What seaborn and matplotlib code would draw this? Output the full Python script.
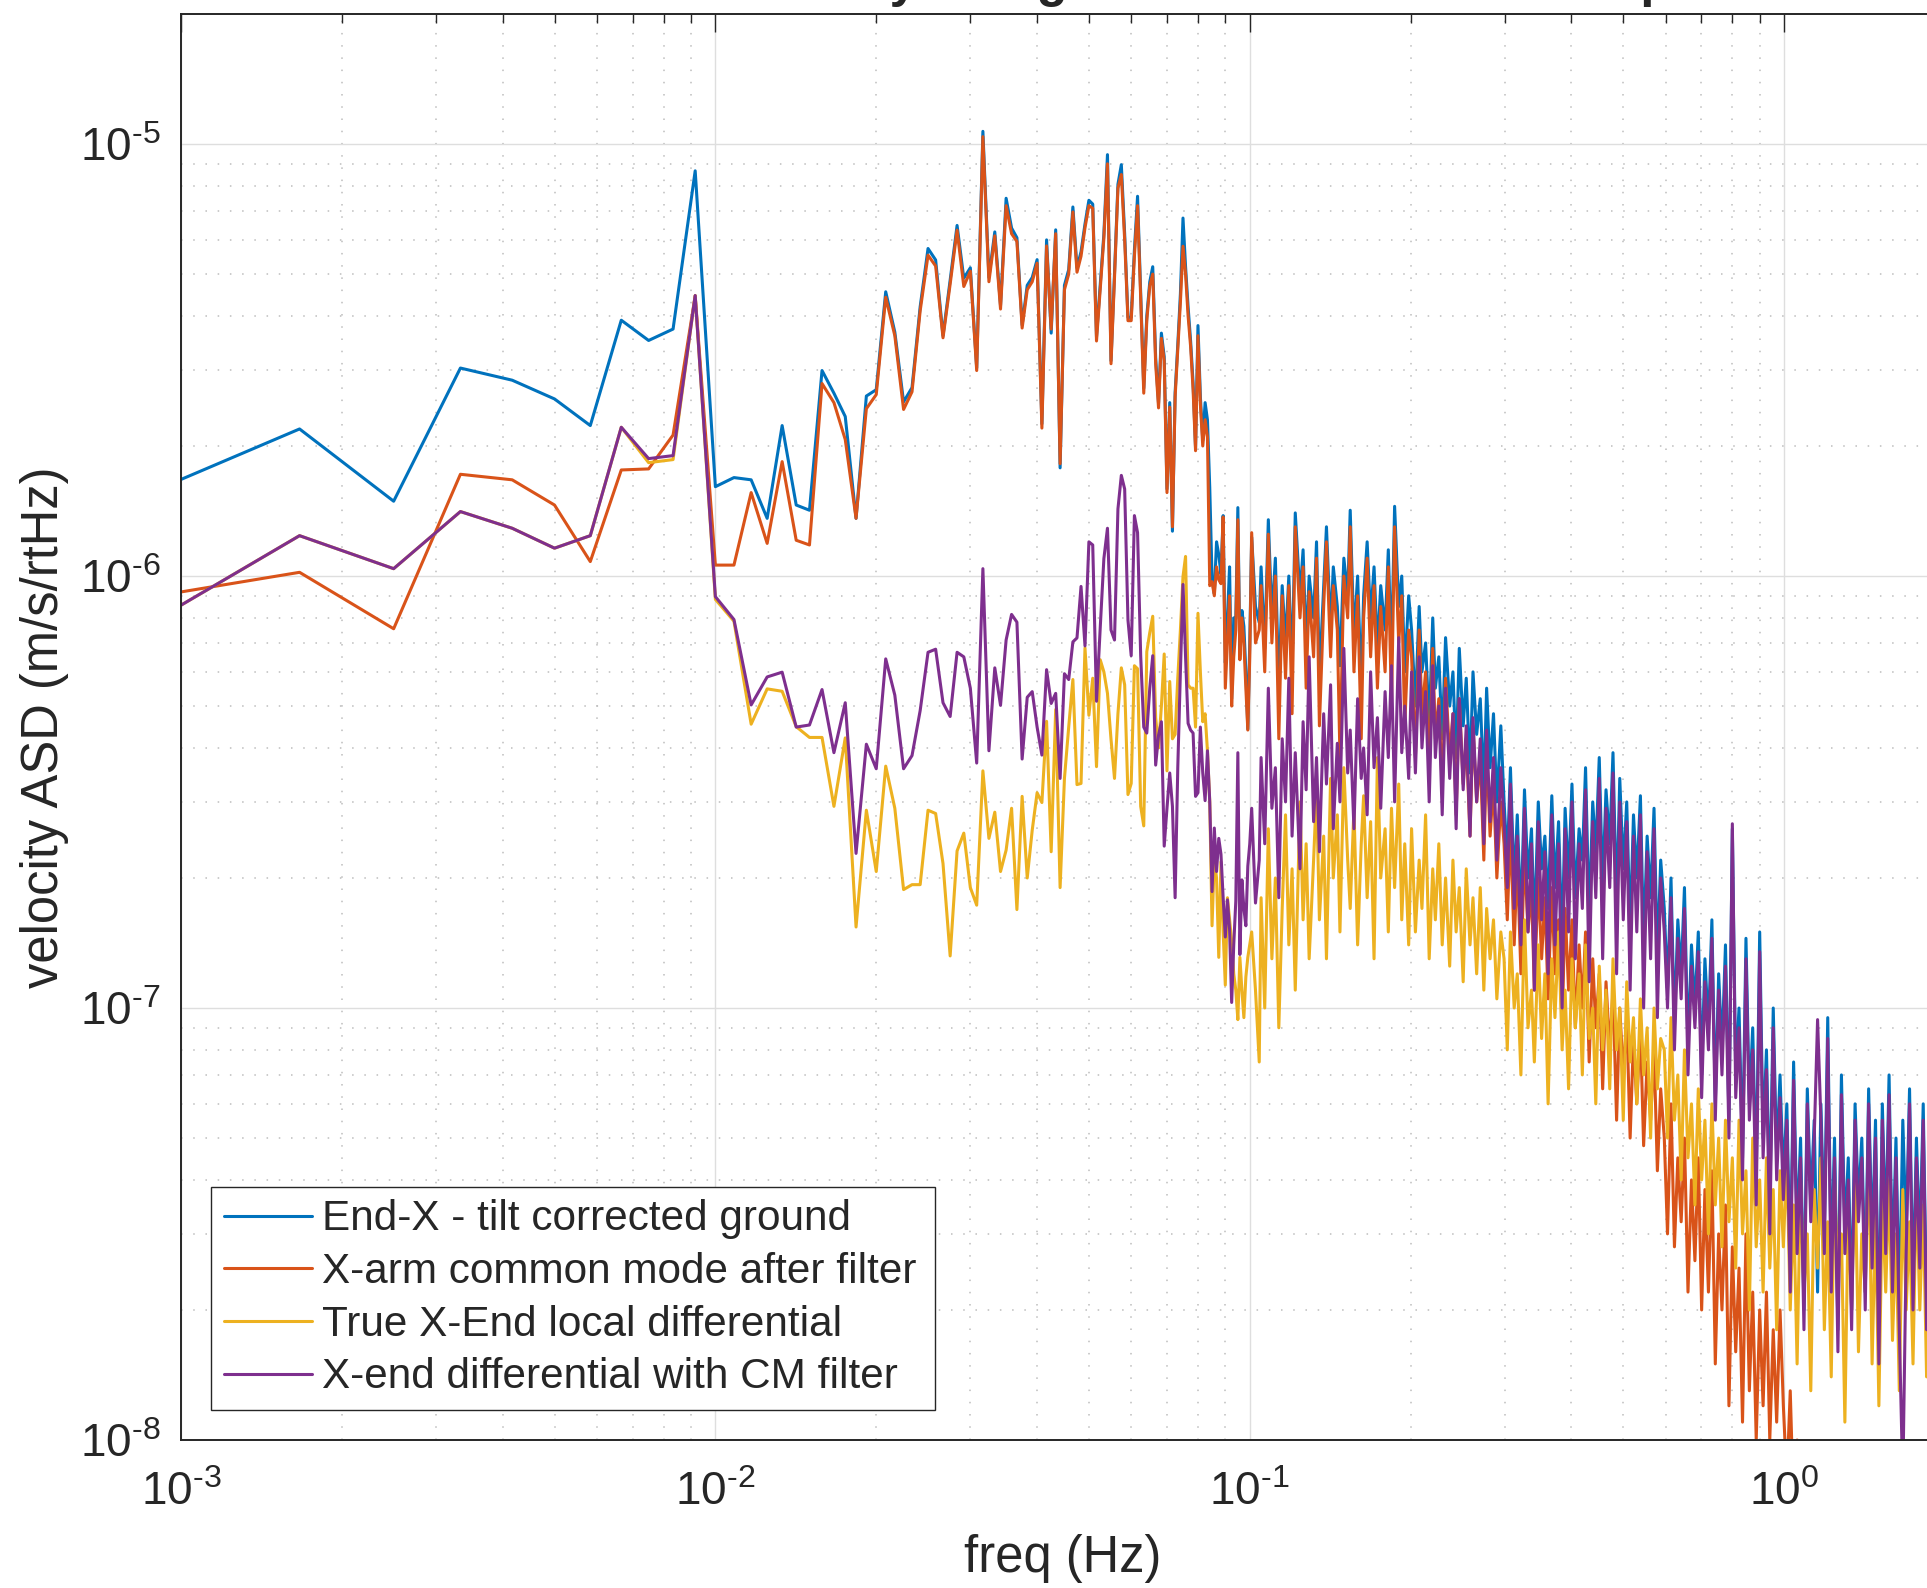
import numpy as np
import pandas as pd
import matplotlib
matplotlib.use("Agg")
import matplotlib.pyplot as plt
from matplotlib.lines import Line2D
from matplotlib.ticker import LogLocator, NullFormatter, FuncFormatter
from matplotlib.mathtext import MathTextParser
import seaborn as sns

# ---------------------------------------------------------------------------
# Spectra (velocity ASD, in units of 1e-7 m/s/rtHz)
# FFT bin spacing of the spectra
DF_HZ = 1.0 / 1200.0
UNIT = 1e-7

SERIES = [
    "End-X - tilt corrected ground",
    "X-arm common mode after filter",
    "True X-End local differential",
    "X-end differential with CM filter",
]
COLORS = ["#0072BD", "#D95319", "#EDB120", "#7E2F8E"]

# bins 1..120 (below 0.1 Hz), every bin
blue_lf = [
    15.2, 21.9, 14.9, 30.3, 28.4, 25.7, 22.3, 39.1, 35.1, 37.3,
    86.7, 16.1, 16.9, 16.7, 13.6, 22.3, 14.6, 14.2, 29.9, 26.5,
    23.4, 13.6, 26.1, 27.0, 45.5, 36.7, 25.3, 27.3, 42.0, 57.3,
    53.9, 36.0, 48.4, 64.8, 48.9, 51.7, 30.3, 107.0, 49.1, 62.6,
    42.3, 74.9, 63.9, 60.7, 38.1, 47.1, 49.1, 54.0, 22.5, 60.0,
    36.5, 63.3, 17.8, 47.1, 51.2, 71.5, 51.7, 56.3, 65.3, 74.1,
    72.6, 35.8, 47.1, 61.9, 94.5, 31.5, 50.1, 80.7, 89.6, 61.9,
    39.7, 39.7, 56.9, 75.7, 45.0, 27.2, 40.0, 48.0, 52.0, 32.0,
    25.1, 36.5, 32.2, 15.9, 25.2, 12.7, 26.6, 34.3, 45.0, 67.4,
    52.0, 42.0, 35.0, 28.0, 19.8, 38.0, 26.0, 20.6, 25.2, 23.0,
    16.0, 9.9, 9.1, 12.0, 11.2, 10.1, 13.8, 6.3, 8.0, 10.5,
    5.2, 8.0, 7.98, 14.4, 6.6, 8.32, 7.65, 6.0, 4.42, 7.0,
]
orange_lf = [
    8.85, 10.2, 7.55, 17.2, 16.7, 14.6, 10.8, 17.6, 17.7, 21.2,
    44.5, 10.6, 10.6, 15.6, 11.9, 18.4, 12.1, 11.8, 27.9, 25.2,
    20.7, 13.6, 24.4, 26.3, 44.2, 36.0, 24.3, 26.7, 41.1, 55.3,
    52.2, 35.6, 47.4, 63.2, 46.8, 50.8, 29.9, 104.0, 48.0, 61.3,
    41.5, 72.0, 62.0, 59.5, 37.5, 46.0, 48.0, 53.0, 22.0, 58.1,
    37.3, 62.0, 18.2, 46.0, 50.0, 69.6, 50.5, 55.0, 64.0, 72.0,
    71.0, 35.0, 46.0, 60.5, 90.0, 31.0, 49.0, 79.0, 85.0, 60.0,
    39.0, 39.0, 55.0, 72.0, 44.0, 26.5, 39.0, 47.0, 50.0, 31.0,
    24.5, 35.5, 31.5, 15.6, 24.6, 13.0, 26.0, 33.5, 43.0, 58.0,
    50.0, 40.0, 34.0, 27.0, 19.5, 36.0, 25.0, 20.0, 23.0, 21.0,
    9.5, 9.7, 9.0, 10.5, 9.8, 9.6, 13.7, 5.5, 7.0, 9.0,
    5.0, 6.5, 7.5, 13.5, 6.4, 8.0, 7.0, 5.5, 4.4, 6.5,
]
yellow_lf = [
    7.5, 12.4, 10.4, 14.1, 12.9, 11.6, 12.4, 22.1, 18.3, 18.6,
    44.6, 8.83, 7.86, 4.54, 5.48, 5.41, 4.48, 4.23, 4.23, 2.93,
    4.22, 1.54, 2.87, 2.07, 3.63, 2.90, 1.88, 1.93, 1.93, 2.87,
    2.82, 2.16, 1.32, 2.31, 2.54, 1.90, 1.73, 3.54, 2.47, 2.84,
    2.07, 2.32, 2.90, 1.69, 3.09, 2.00, 2.58, 3.15, 2.99, 4.61,
    2.30, 4.91, 1.90, 3.40, 4.47, 5.76, 3.29, 3.31, 6.82, 4.76,
    5.80, 3.62, 6.40, 6.00, 5.35, 4.19, 3.40, 4.80, 6.13, 5.60,
    3.12, 3.31, 6.20, 6.10, 2.93, 2.64, 6.68, 7.40, 8.07, 4.70,
    4.00, 5.00, 6.60, 3.54, 5.70, 4.20, 4.30, 5.80, 7.50, 9.97,
    11.1, 5.60, 5.50, 5.50, 4.47, 8.20, 6.00, 4.60, 4.80, 3.94,
    3.00, 1.55, 2.22, 2.00, 1.31, 2.18, 1.50, 1.13, 1.80, 1.60,
    1.43, 1.20, 1.10, 0.94, 1.31, 1.10, 0.95, 1.18, 1.31, 1.40,
]
purple_lf = [
    7.5, 12.4, 10.4, 14.1, 12.9, 11.6, 12.4, 22.1, 18.7, 19.0,
    44.6, 8.96, 7.93, 5.03, 5.84, 5.99, 4.47, 4.52, 5.46, 3.90,
    5.09, 2.28, 4.08, 3.58, 6.43, 5.30, 3.58, 3.84, 4.88, 6.66,
    6.77, 5.09, 4.73, 6.66, 6.50, 5.50, 3.69, 10.4, 3.94, 6.13,
    5.02, 7.11, 8.15, 7.82, 3.77, 5.24, 5.40, 4.47, 3.85, 6.07,
    5.07, 5.35, 3.40, 5.94, 5.76, 7.04, 7.19, 9.46, 6.89, 12.0,
    11.8, 5.13, 7.58, 10.97, 12.9, 7.50, 7.11, 14.3, 17.1, 15.9,
    7.91, 6.54, 13.8, 12.6, 6.54, 4.47, 4.33, 5.50, 6.54, 3.65,
    4.28, 4.60, 2.37, 2.90, 3.50, 2.93, 1.80, 3.60, 6.01, 9.56,
    6.50, 4.56, 4.40, 4.33, 3.09, 3.15, 4.47, 3.50, 3.02, 3.94,
    3.00, 1.86, 2.61, 2.07, 2.47, 2.27, 1.80, 1.46, 1.78, 1.52,
    1.03, 1.40, 1.77, 3.90, 1.33, 1.98, 1.70, 1.55, 2.13, 2.40,
]

# 0.1 Hz .. 1.9 Hz, decimated to 200 log-spaced bins
blue_hf = [
    12.3, 8.5, 7.8, 10.5, 6.8, 13.5, 8.0, 11.0, 5.5, 9.5,
    7.0, 10.0, 6.0, 14.0, 9.0, 11.5, 6.8, 10.0, 8.0, 12.0,
    5.8, 9.5, 13.0, 7.5, 10.5, 8.5, 6.2, 11.0, 9.0, 14.2,
    7.2, 10.0, 5.5, 9.0, 12.0, 8.0, 10.5, 6.8, 9.5, 7.5,
    11.5, 6.5, 14.5, 8.5, 10.0, 6.0, 9.0, 7.5, 5.0, 8.5,
    6.0, 7.0, 4.5, 8.0, 5.5, 6.5, 4.2, 7.2, 5.0, 6.0,
    3.8, 6.8, 4.5, 5.8, 3.5, 6.0, 4.3, 5.2, 3.2, 5.5,
    3.6, 4.8, 3.0, 4.5, 3.0, 2.2, 3.6, 1.9, 2.8, 1.6,
    3.2, 2.0, 2.6, 1.5, 3.0, 2.1, 2.5, 1.7, 3.1, 1.9,
    2.7, 1.4, 2.9, 2.0, 3.3, 1.8, 2.6, 2.2, 3.6, 1.6,
    3.0, 2.3, 3.8, 1.9, 3.2, 2.4, 3.9, 1.7, 3.4, 2.1,
    3.0, 1.5, 2.8, 2.0, 3.1, 1.4, 2.5, 1.8, 2.9, 1.3,
    2.2, 1.7, 1.1, 2.0, 0.9, 1.6, 1.2, 1.9, 0.8, 1.4,
    1.0, 1.5, 0.7, 1.3, 0.9, 1.6, 0.6, 1.2, 0.8, 1.4,
    0.55, 2.6, 0.7, 1.0, 0.45, 1.45, 0.6, 0.9, 0.4, 1.5,
    0.5, 0.8, 0.35, 1.0, 0.45, 0.7, 0.4, 0.6, 0.25, 0.75,
    0.3, 0.5, 0.2, 0.65, 0.35, 0.55, 0.22, 0.6, 0.3, 0.95,
    0.25, 0.5, 0.18, 0.7, 0.3, 0.45, 0.2, 0.6, 0.35, 0.5,
    0.22, 0.65, 0.28, 0.55, 0.17, 0.6, 0.3, 0.7, 0.25, 0.5,
    0.2, 0.55, 0.3, 0.65, 0.22, 0.5, 0.28, 0.6, 0.2, 0.45,
]
orange_hf = [
    12.6, 7.0, 7.5, 9.5, 6.0, 12.5, 7.0, 10.0, 4.2, 9.0,
    5.8, 9.5, 4.8, 13.0, 8.0, 10.5, 5.5, 9.2, 6.5, 11.0,
    4.5, 8.5, 12.0, 6.5, 9.5, 7.5, 3.8, 10.0, 8.0, 13.0,
    6.0, 9.0, 4.2, 8.0, 11.0, 6.5, 9.5, 5.5, 8.5, 6.0,
    10.5, 5.0, 13.0, 7.0, 9.0, 4.5, 7.5, 6.5, 3.8, 7.5,
    4.8, 6.0, 3.5, 6.8, 4.2, 5.2, 3.2, 5.8, 3.8, 4.8,
    2.8, 5.2, 3.3, 4.2, 2.5, 4.5, 3.0, 3.8, 2.2, 4.0,
    2.5, 3.3, 2.0, 3.0, 2.4, 1.6, 2.6, 1.4, 2.2, 1.2,
    2.3, 1.5, 1.9, 1.1, 2.0, 1.3, 1.8, 1.05, 1.9, 1.2,
    1.6, 0.9, 1.7, 1.1, 1.6, 0.9, 1.4, 1.0, 1.5, 0.75,
    1.3, 0.9, 1.2, 0.65, 1.15, 0.8, 1.1, 0.55, 1.0, 0.7,
    0.95, 0.5, 0.85, 0.6, 0.9, 0.48, 0.75, 0.55, 0.8, 0.42,
    0.65, 0.5, 0.3, 0.6, 0.28, 0.45, 0.32, 0.5, 0.22, 0.4,
    0.26, 0.45, 0.2, 0.38, 0.22, 0.42, 0.15, 0.3, 0.2, 0.35,
    0.12, 0.28, 0.16, 0.25, 0.11, 0.3, 0.13, 0.22, 0.1, 0.2,
    0.12, 0.22, 0.1, 0.18, 0.11, 0.2, 0.12, 0.08, 0.13, 0.07,
    0.1, 0.05, 0.08, 0.04, 0.06, 0.05, 0.04, 0.06, 0.03, 0.05,
    0.04, 0.05, 0.03, 0.045, 0.035, 0.05, 0.03, 0.04, 0.035, 0.05,
    0.03, 0.04, 0.03, 0.045, 0.03, 0.04, 0.035, 0.04, 0.03, 0.045,
    0.03, 0.04, 0.03, 0.04, 0.035, 0.04, 0.03, 0.04, 0.03, 0.04,
]
yellow_hf = [
    1.5, 1.1, 0.75, 1.8, 1.0, 2.6, 1.3, 2.0, 0.9, 1.7,
    2.8, 1.4, 2.1, 1.1, 3.0, 1.6, 2.4, 1.3, 2.2, 3.2,
    1.6, 2.5, 1.3, 3.4, 2.0, 2.8, 1.5, 3.6, 2.2, 1.7,
    2.9, 1.4, 2.4, 3.1, 1.8, 2.7, 1.3, 3.8, 2.0, 2.6,
    1.5, 2.9, 1.9, 3.3, 1.6, 2.4, 1.4, 2.6, 1.5, 2.2,
    1.7, 2.8, 1.3, 2.1, 1.6, 2.4, 1.4, 2.0, 1.25, 2.2,
    1.5, 1.9, 1.15, 2.1, 1.4, 1.8, 1.2, 1.9, 1.1, 1.7,
    1.3, 1.6, 1.05, 1.5, 1.3, 0.8, 1.5, 1.0, 1.2, 0.7,
    1.6, 0.9, 1.1, 0.75, 1.4, 0.85, 1.2, 0.6, 1.3, 0.95,
    1.5, 0.8, 1.1, 0.65, 1.3, 0.9, 1.2, 0.7, 1.4, 0.85,
    1.0, 0.6, 1.25, 0.8, 1.1, 0.65, 1.3, 0.8, 1.0, 0.55,
    1.15, 0.75, 0.95, 0.6, 1.05, 0.7, 0.9, 0.5, 1.0, 0.65,
    0.85, 0.8, 0.5, 0.95, 0.55, 0.7, 0.4, 0.8, 0.45, 0.6,
    0.35, 0.65, 0.4, 0.55, 0.3, 0.6, 0.35, 0.5, 0.28, 0.55,
    0.32, 0.45, 0.25, 0.55, 0.3, 0.42, 0.2, 0.5, 0.28, 0.4,
    0.22, 0.45, 0.25, 0.38, 0.18, 0.42, 0.28, 0.45, 0.2, 0.35,
    0.15, 0.4, 0.22, 0.3, 0.13, 0.38, 0.25, 0.45, 0.18, 0.32,
    0.14, 0.4, 0.24, 0.3, 0.11, 0.35, 0.2, 0.42, 0.16, 0.3,
    0.22, 0.48, 0.15, 0.33, 0.12, 0.36, 0.22, 0.4, 0.17, 0.3,
    0.13, 0.38, 0.2, 0.32, 0.15, 0.4, 0.2, 0.35, 0.14, 0.3,
]
purple_hf = [
    2.9, 1.75, 2.2, 3.8, 2.4, 5.5, 2.9, 3.6, 1.8, 4.2,
    3.0, 5.8, 2.5, 3.9, 2.1, 4.6, 3.2, 6.5, 2.7, 3.8,
    2.3, 4.8, 3.3, 5.6, 2.6, 4.1, 3.0, 6.8, 3.5, 4.4,
    2.6, 5.2, 3.4, 4.0, 2.8, 6.0, 3.6, 4.7, 2.9, 5.4,
    3.8, 6.2, 3.0, 7.2, 3.9, 5.0, 3.4, 6.0, 3.5, 6.5,
    4.0, 5.4, 3.0, 6.2, 3.8, 5.0, 2.8, 5.5, 3.4, 4.8,
    2.6, 5.2, 3.2, 4.5, 2.5, 4.7, 3.0, 4.2, 2.4, 4.4,
    2.7, 3.8, 2.2, 3.6, 2.7, 1.9, 3.3, 1.7, 2.5, 1.4,
    2.9, 1.5, 2.4, 1.1, 2.7, 1.6, 2.3, 1.2, 2.8, 1.4,
    2.4, 1.0, 2.6, 1.5, 3.0, 1.3, 2.4, 1.7, 3.2, 1.15,
    2.7, 1.8, 3.4, 1.3, 2.9, 1.9, 3.5, 1.2, 3.0, 1.6,
    2.7, 1.1, 2.5, 1.5, 2.8, 1.0, 2.3, 1.3, 2.6, 0.95,
    2.0, 1.5, 1.0, 1.8, 0.8, 1.45, 1.05, 1.7, 0.7, 1.25,
    0.9, 1.35, 0.62, 1.15, 0.8, 1.45, 0.55, 1.1, 0.7, 1.25,
    0.5, 2.67, 0.62, 0.9, 0.4, 1.3, 0.55, 0.8, 0.35, 1.35,
    0.45, 0.72, 0.3, 0.9, 0.4, 0.62, 0.36, 0.55, 0.22, 0.68,
    0.27, 0.45, 0.18, 0.6, 0.32, 0.5, 0.94, 0.55, 0.27, 0.85,
    0.22, 0.45, 0.16, 0.63, 0.27, 0.4, 0.18, 0.55, 0.32, 0.45,
    0.2, 0.6, 0.25, 0.5, 0.15, 0.55, 0.27, 0.63, 0.22, 0.45,
    0.18, 0.08, 0.27, 0.6, 0.2, 0.45, 0.25, 0.55, 0.18, 0.4,
]

# frequency axes: full resolution below 0.1 Hz, log-decimated bins above
lf_freq = np.arange(1, len(blue_lf) + 1) * DF_HZ
hf_freq = np.round(np.geomspace(121, 2250, len(blue_hf))) * DF_HZ

frames = []
for name, lf, hf in zip(SERIES,
                        [blue_lf, orange_lf, yellow_lf, purple_lf],
                        [blue_hf, orange_hf, yellow_hf, purple_hf]):
    frames.append(pd.DataFrame({
        "freq": np.concatenate([lf_freq, hf_freq]),
        "asd": np.concatenate([lf, hf]) * UNIT,
        "series": name,
    }))
data = pd.concat(frames, ignore_index=True)

# ---------------------------------------------------------------------------
sns.set_style("white")
plt.rcParams["font.family"] = ["Liberation Sans", "DejaVu Sans"]
plt.rcParams["mathtext.fontset"] = "custom"
plt.rcParams["mathtext.rm"] = "Liberation Sans"
plt.rcParams["mathtext.it"] = "Liberation Sans:italic"
plt.rcParams["mathtext.bf"] = "Liberation Sans:bold"


def _plain_hyphen_supported():
    try:
        MathTextParser("path").parse(r"$10^{\text{-}3}$")
        return True
    except Exception:
        return False


_HYPHEN = r"\text{-}" if _plain_hyphen_supported() else "-"


def decade_label(value, pos):
    exp = int(round(np.log10(value)))
    if exp < 0:
        return r"$\mathdefault{10^{%s%d}}$" % (_HYPHEN, -exp)
    return r"$\mathdefault{10^{%d}}$" % exp


AX_COLOR = "#262626"
W, H = 1927, 1588
fig = plt.figure(figsize=(W / 100, H / 100), dpi=100)
ax = fig.add_axes([181 / W, 148 / H, 1764 / W, 1426 / H])
ax.set_xscale("log")
ax.set_yscale("log")

sns.lineplot(data=data, x="freq", y="asd", hue="series", hue_order=SERIES,
             palette=COLORS, estimator=None, sort=False, linewidth=2.2,
             legend=False, ax=ax)

ax.set_xlim(1e-3, 2.0)
ax.set_ylim(1e-8, 2e-5)

for axis in (ax.xaxis, ax.yaxis):
    axis.set_major_locator(LogLocator(base=10, numticks=20))
    axis.set_minor_locator(LogLocator(base=10, subs=np.arange(2, 10), numticks=100))
    axis.set_major_formatter(FuncFormatter(decade_label))
    axis.set_minor_formatter(NullFormatter())

ax.grid(True, which="major", color="#dedede", linewidth=1.0, linestyle="-")
ax.grid(True, which="minor", color="#bdbdbd", linewidth=1.1, linestyle=(0, (1, 7)))
ax.set_axisbelow(True)

ax.tick_params(which="both", direction="in", top=True, right=True,
               color=AX_COLOR, labelcolor=AX_COLOR, width=1.0)
ax.tick_params(which="major", length=13, labelsize=33)
ax.tick_params(which="minor", length=6.5)
ax.tick_params(axis="x", which="major", pad=22)
ax.tick_params(axis="y", which="major", pad=15)
for sp in ax.spines.values():
    sp.set_color(AX_COLOR)
    sp.set_linewidth(1.4)

ax.set_xlabel("freq (Hz)", fontsize=36.5, color=AX_COLOR)
ax.set_ylabel("velocity ASD (m/s/rtHz)", fontsize=36.5, color=AX_COLOR)
ax.xaxis.set_label_coords(0.5, -0.066)
ax.yaxis.set_label_coords(-0.0635, 0.5)

ax.set_title("End-X STS velocity and ground tilt: CM filter setup",
             fontsize=36.5, fontweight="bold", pad=12.7)

handles = [Line2D([], [], color=c, linewidth=2.2) for c in COLORS]
leg = ax.legend(handles, SERIES, loc="lower left", mode="expand",
                bbox_to_anchor=(211 / W, 178 / H, 724 / W, 220 / H),
                bbox_transform=fig.transFigure,
                borderaxespad=0, fontsize=30.4, frameon=True, fancybox=False,
                edgecolor=AX_COLOR, framealpha=1, handlelength=2.09,
                handletextpad=0.24, labelspacing=0.3, borderpad=0.3)
leg.get_frame().set_linewidth(1.0)

fig.savefig("out.png", dpi=100)
